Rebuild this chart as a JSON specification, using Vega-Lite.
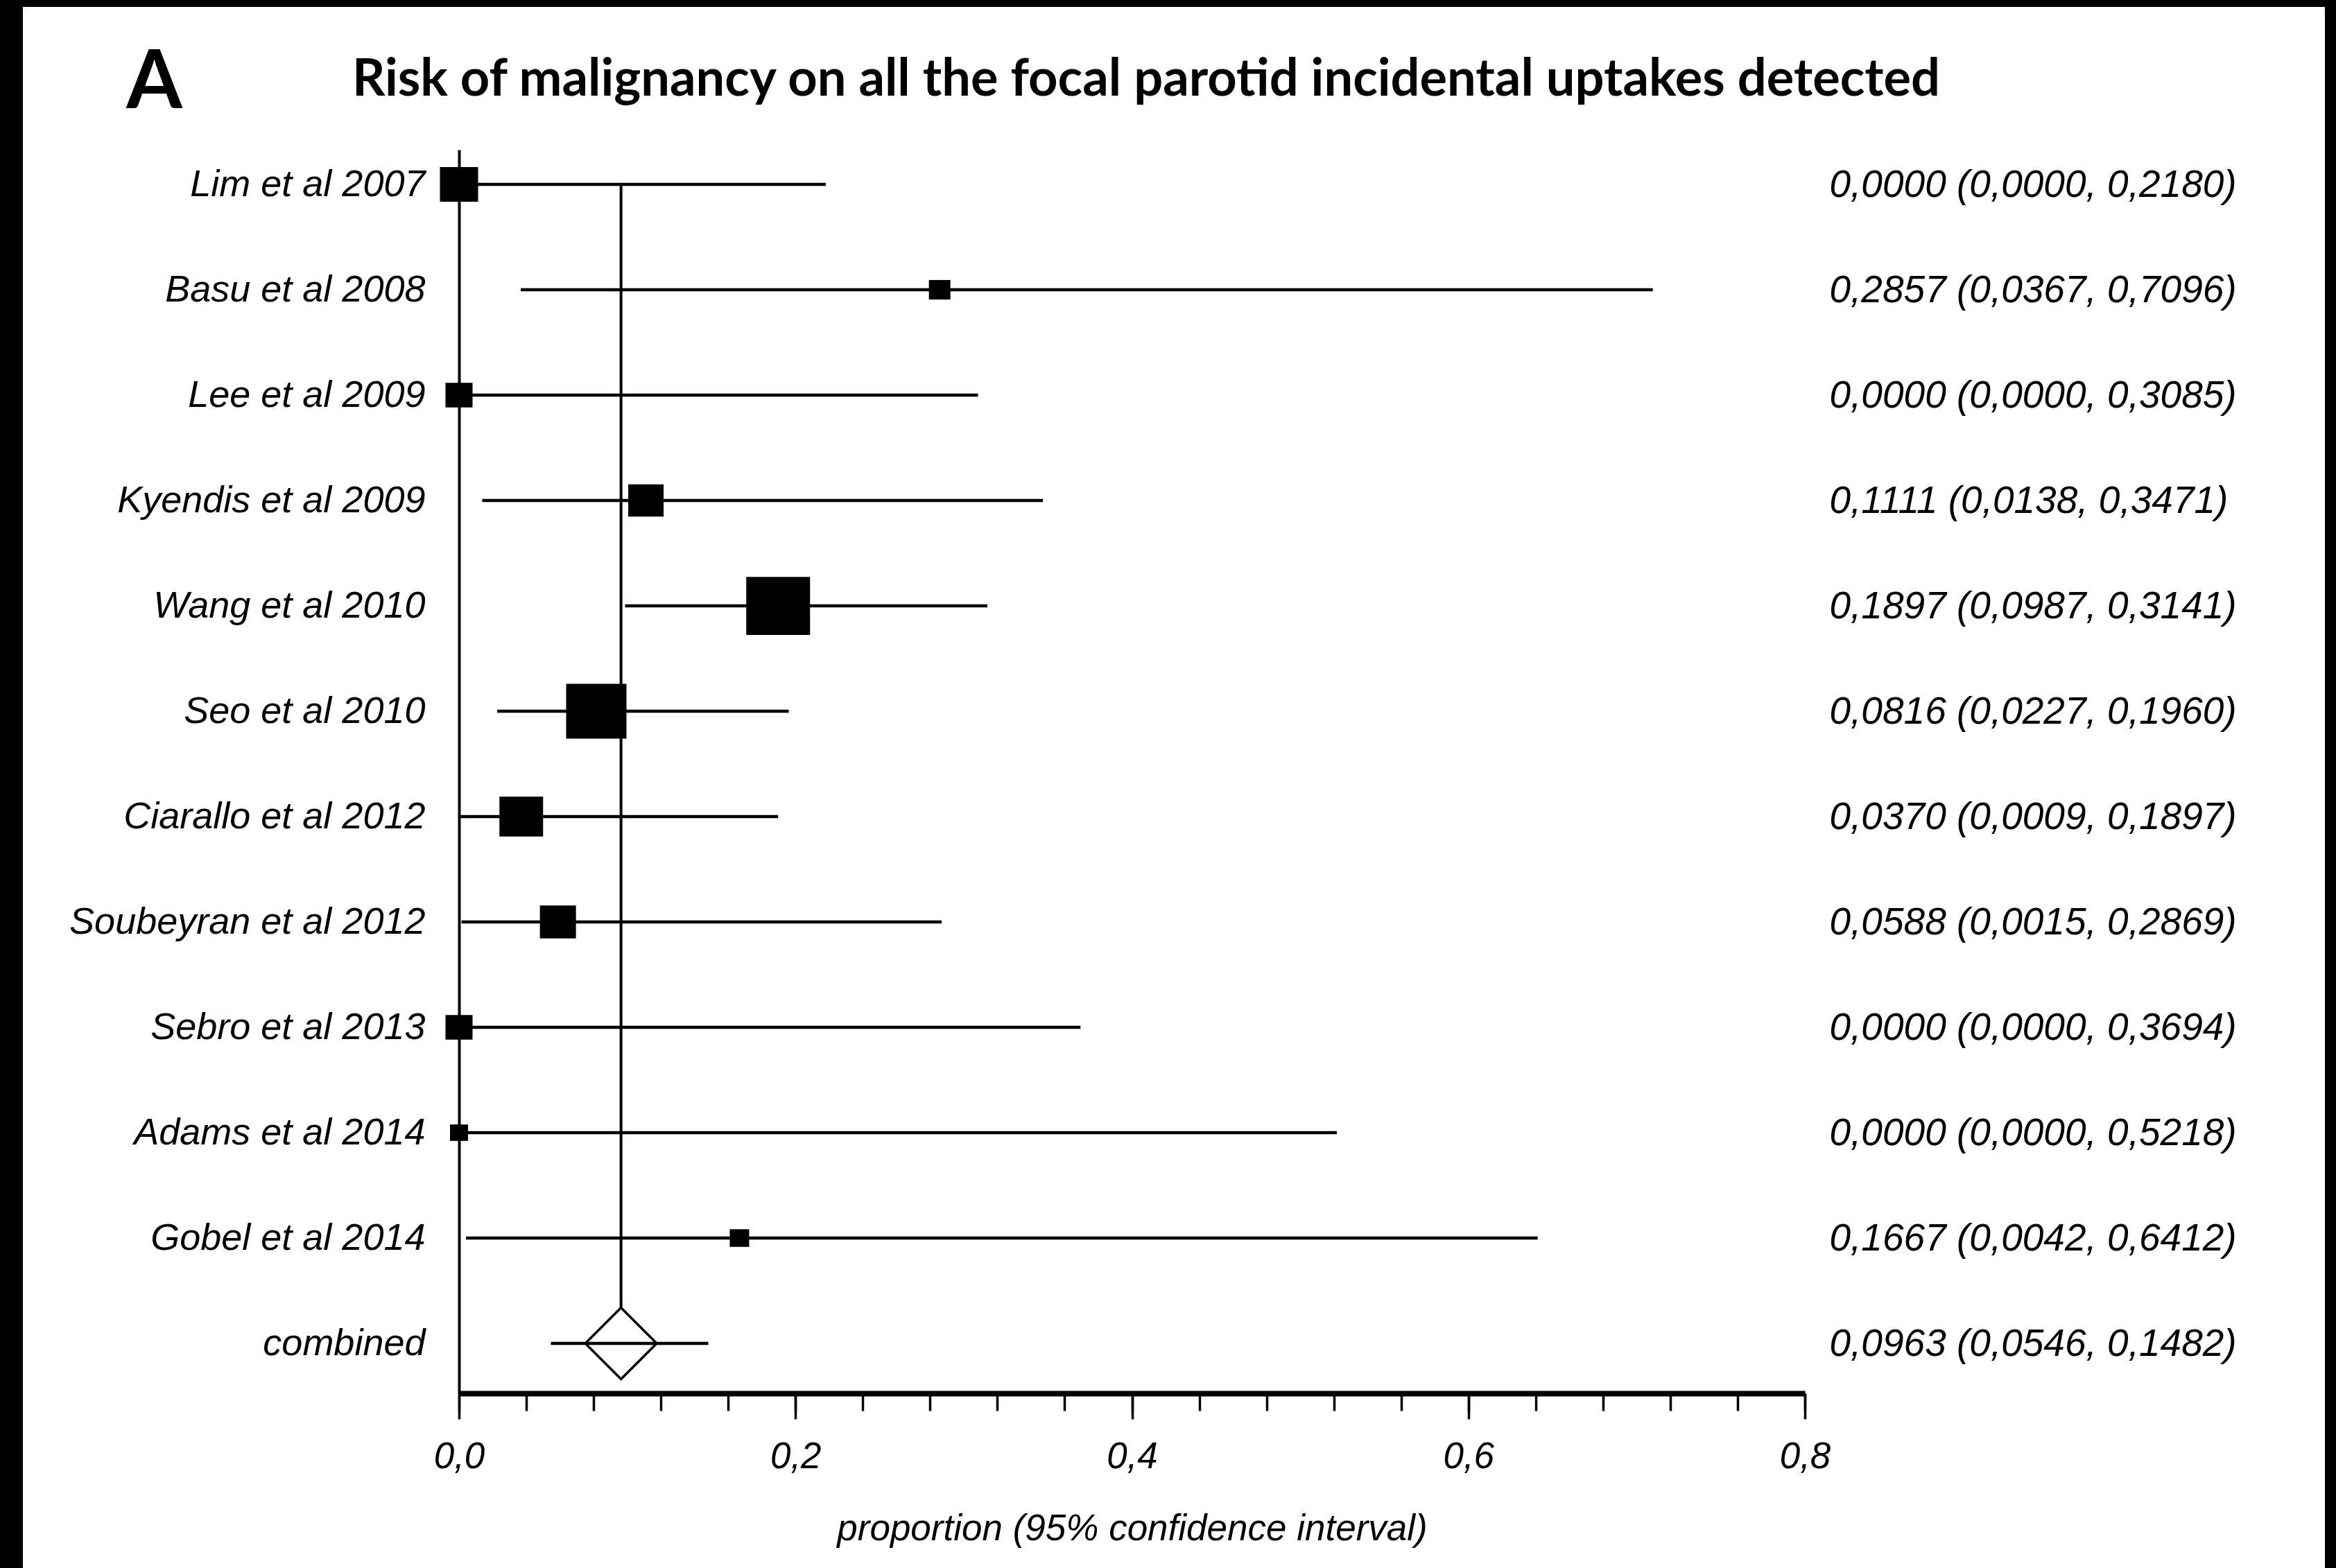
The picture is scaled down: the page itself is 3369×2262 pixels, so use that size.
{
  "$schema": "https://vega.github.io/schema/vega-lite/v6.json",
  "width": 3320,
  "height": 2252,
  "autosize": "none",
  "padding": {"left": 33, "top": 10, "right": 16, "bottom": 0},
  "background": "black",
  "config": {"view": {"stroke": null, "fill": "white"}, "font": "Liberation Sans"},
  "title": {
    "text": "Risk of malignancy on all the focal parotid incidental uptakes detected",
    "font": "Lato", "fontSize": 74, "fontWeight": "bold", "color": "black",
    "anchor": "middle", "frame": "group", "baseline": "alphabetic", "offset": -202, "dx": -40
  },
  "data": {"values": [
    {"study": "Lim et al 2007", "kind": "study", "est": 0.0, "lo": 0.0, "hi": 0.2180, "weight": 8.95, "ci": "0,0000 (0,0000, 0,2180)"},
    {"study": "Basu et al 2008", "kind": "study", "est": 0.2857, "lo": 0.0367, "hi": 0.7096, "weight": 2.84, "ci": "0,2857 (0,0367, 0,7096)"},
    {"study": "Lee et al 2009", "kind": "study", "est": 0.0, "lo": 0.0, "hi": 0.3085, "weight": 4.5, "ci": "0,0000 (0,0000, 0,3085)"},
    {"study": "Kyendis et al 2009", "kind": "study", "est": 0.1111, "lo": 0.0138, "hi": 0.3471, "weight": 7.7, "ci": "0,1111 (0,0138, 0,3471)"},
    {"study": "Wang et al 2010", "kind": "study", "est": 0.1897, "lo": 0.0987, "hi": 0.3141, "weight": 25.05, "ci": "0,1897 (0,0987, 0,3141)"},
    {"study": "Seo et al 2010", "kind": "study", "est": 0.0816, "lo": 0.0227, "hi": 0.1960, "weight": 22.4, "ci": "0,0816 (0,0227, 0,1960)"},
    {"study": "Ciarallo et al 2012", "kind": "study", "est": 0.0370, "lo": 0.0009, "hi": 0.1897, "weight": 11.74, "ci": "0,0370 (0,0009, 0,1897)"},
    {"study": "Soubeyran et al 2012", "kind": "study", "est": 0.0588, "lo": 0.0015, "hi": 0.2869, "weight": 8.0, "ci": "0,0588 (0,0015, 0,2869)"},
    {"study": "Sebro et al 2013", "kind": "study", "est": 0.0, "lo": 0.0, "hi": 0.3694, "weight": 4.5, "ci": "0,0000 (0,0000, 0,3694)"},
    {"study": "Adams et al 2014", "kind": "study", "est": 0.0, "lo": 0.0, "hi": 0.5218, "weight": 2.0, "ci": "0,0000 (0,0000, 0,5218)"},
    {"study": "Gobel et al 2014", "kind": "study", "est": 0.1667, "lo": 0.0042, "hi": 0.6412, "weight": 2.32, "ci": "0,1667 (0,0042, 0,6412)"},
    {"study": "combined", "kind": "pooled", "est": 0.0963, "lo": 0.0546, "hi": 0.1482, "ci": "0,0963 (0,0546, 0,1482)"}
  ]},
  "layer": [
    {
      "layer": [
        {
          "transform": [{"filter": "datum.kind === 'pooled'"}],
          "mark": {"type": "rule", "strokeWidth": 4, "color": "black"},
          "encoding": {
            "x": {"field": "est", "type": "quantitative", "scale": {"domain": [0, 0.8], "range": [629, 2570], "nice": false, "zero": false}},
            "y": {"field": "study", "type": "nominal", "scale": {"type": "point", "domain": ["Lim et al 2007", "Basu et al 2008", "Lee et al 2009", "Kyendis et al 2009", "Wang et al 2010", "Seo et al 2010", "Ciarallo et al 2012", "Soubeyran et al 2012", "Sebro et al 2013", "Adams et al 2014", "Gobel et al 2014", "combined"], "range": [206, 2000], "padding": 0.4013, "align": 0.41}},
            "y2": {"datum": "Lim et al 2007"}
          }
        },
        {
          "transform": [{"filter": "datum.kind === 'pooled'"}],
          "mark": {"type": "point", "shape": "diamond", "size": 10609, "filled": true, "fill": "white", "stroke": "black", "strokeWidth": 3.5, "opacity": 1},
          "encoding": {
            "x": {"field": "est", "type": "quantitative", "scale": {"domain": [0, 0.8], "range": [629, 2570], "nice": false, "zero": false}},
            "y": {"field": "study", "type": "nominal", "scale": {"type": "point", "domain": ["Lim et al 2007", "Basu et al 2008", "Lee et al 2009", "Kyendis et al 2009", "Wang et al 2010", "Seo et al 2010", "Ciarallo et al 2012", "Soubeyran et al 2012", "Sebro et al 2013", "Adams et al 2014", "Gobel et al 2014", "combined"], "range": [206, 2000], "padding": 0.4013, "align": 0.41}}
          }
        },
        {
          "mark": {"type": "rule", "strokeWidth": 4.5, "color": "black"},
          "encoding": {
            "x": {"field": "lo", "type": "quantitative",
              "scale": {"domain": [0, 0.8], "range": [629, 2570], "nice": false, "zero": false},
              "axis": {
                "orient": "bottom", "offset": -252, "values": [0, 0.2, 0.4, 0.6, 0.8],
                "grid": false, "tickSize": 37, "tickWidth": 3.5, "tickColor": "black",
                "domainColor": "black", "domainWidth": 8,
                "labelExpr": "replace(format(datum.value, '.1f'), '.', ',')",
                "labelFont": "Liberation Sans", "labelFontStyle": "italic", "labelFontSize": 53, "labelColor": "black",
                "labelPadding": 28, "labelFlush": false, "labelOverlap": false,
                "title": "proportion (95% confidence interval)",
                "titleFont": "Liberation Sans", "titleFontStyle": "italic", "titleFontWeight": "normal", "titleFontSize": 53, "titleColor": "black",
                "titleY": 195, "titleBaseline": "middle"
              }},
            "x2": {"field": "hi"},
            "y": {"field": "study", "type": "nominal",
              "scale": {"type": "point", "domain": ["Lim et al 2007", "Basu et al 2008", "Lee et al 2009", "Kyendis et al 2009", "Wang et al 2010", "Seo et al 2010", "Ciarallo et al 2012", "Soubeyran et al 2012", "Sebro et al 2013", "Adams et al 2014", "Gobel et al 2014", "combined"], "range": [206, 2000], "padding": 0.4013, "align": 0.41},
              "axis": {
                "orient": "left", "offset": -629, "grid": false, "ticks": false,
                "domainColor": "black", "domainWidth": 4,
                "labelFont": "Liberation Sans", "labelFontStyle": "italic", "labelFontSize": 54, "labelColor": "black",
                "labelPadding": 49, "labelLimit": 2000,
                "title": "A", "titleAngle": 0, "titleX": -440, "titleY": 145, "titleAlign": "center", "titleBaseline": "alphabetic",
                "titleFont": "Lato", "titleFontWeight": "bold", "titleFontSize": 116, "titleColor": "black"
              }}
          }
        },
        {
          "transform": [{"filter": "datum.kind === 'study'"}],
          "mark": {"type": "point", "shape": "M-1,-0.91L1,-0.91L1,0.91L-1,0.91Z", "filled": true, "color": "black", "opacity": 1, "strokeWidth": 0},
          "encoding": {
            "x": {"field": "est", "type": "quantitative", "scale": {"domain": [0, 0.8], "range": [629, 2570], "nice": false, "zero": false}},
            "y": {"field": "study", "type": "nominal", "scale": {"type": "point", "domain": ["Lim et al 2007", "Basu et al 2008", "Lee et al 2009", "Kyendis et al 2009", "Wang et al 2010", "Seo et al 2010", "Ciarallo et al 2012", "Soubeyran et al 2012", "Sebro et al 2013", "Adams et al 2014", "Gobel et al 2014", "combined"], "range": [206, 2000], "padding": 0.4013, "align": 0.41}},
            "size": {"field": "weight", "type": "quantitative", "scale": {"domain": [0, 25.05], "range": [0, 8464]}, "legend": null}
          }
        }
      ]
    },
    {
      "mark": {"type": "point", "opacity": 0},
      "encoding": {
        "x": {"field": "est", "type": "quantitative",
          "scale": {"domain": [0, 0.8], "range": [629, 2570], "nice": false, "zero": false},
          "axis": {
            "orient": "bottom", "offset": -252,
            "values": [0, 0.04, 0.08, 0.12, 0.16, 0.2, 0.24, 0.28, 0.32, 0.36, 0.4, 0.44, 0.48, 0.52, 0.56, 0.6, 0.64, 0.68, 0.72, 0.76, 0.8],
            "grid": false, "domain": false, "labels": false, "title": null,
            "tickSize": 25, "tickWidth": 3.5, "tickColor": "black"
          }},
        "y": {"field": "ci", "type": "nominal",
          "scale": {"type": "point", "domain": ["0,0000 (0,0000, 0,2180)", "0,2857 (0,0367, 0,7096)", "0,0000 (0,0000, 0,3085)", "0,1111 (0,0138, 0,3471)", "0,1897 (0,0987, 0,3141)", "0,0816 (0,0227, 0,1960)", "0,0370 (0,0009, 0,1897)", "0,0588 (0,0015, 0,2869)", "0,0000 (0,0000, 0,3694)", "0,0000 (0,0000, 0,5218)", "0,1667 (0,0042, 0,6412)", "0,0963 (0,0546, 0,1482)"], "range": [206, 2000], "padding": 0.4013, "align": 0.41},
          "axis": {
            "orient": "right", "offset": -715, "grid": false, "ticks": false, "domain": false,
            "labelFont": "Liberation Sans", "labelFontStyle": "italic", "labelFontSize": 55, "labelColor": "black",
            "labelPadding": 0, "labelLimit": 2000, "title": null
          }}
      }
    }
  ],
  "resolve": {"scale": {"y": "independent"}, "axis": {"x": "independent", "y": "independent"}}
}
